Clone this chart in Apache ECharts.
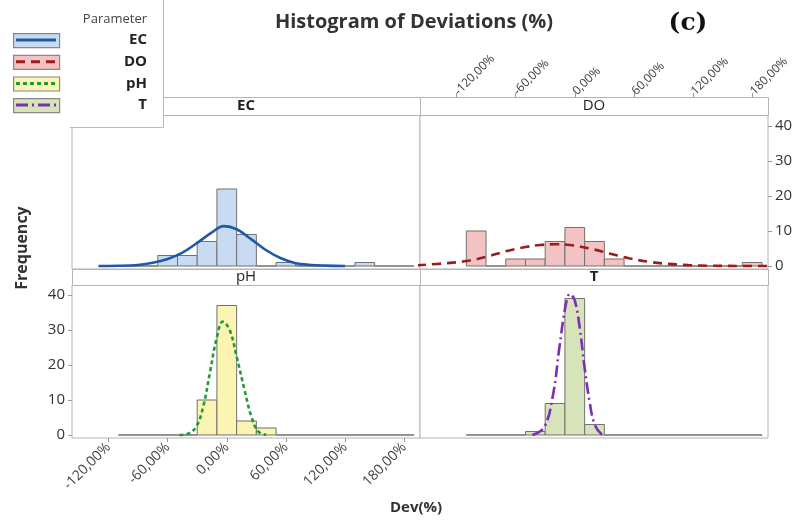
<!DOCTYPE html>
<html>
<head>
<meta charset="utf-8">
<script src="https://cdn.jsdelivr.net/npm/echarts@6/dist/echarts.min.js"></script>
<style>
html, body { margin: 0; padding: 0; background: #fff; }
#main { width: 802px; height: 522px; }
</style>
</head>
<body>
<div id="main"></div>
<script>
// bins (centre of each bin, in %)
const binCenters = [-120, -100, -80, -60, -40, -20, 0, 20, 40, 60, 80, 100, 120, 140, 160, 180];
const binWidth = 20;
const ecCounts = [0, 0, 0, 3, 3, 7, 22, 9, 0, 1, 0, 0, 0, 1, 0, 0];
const doCounts = [null, 10, 0, 2, 2, 7, 11, 7, 2, 0, 0, 0, 0, 0, 0, 1];
const phCounts = [null, 0, 0, 0, 0, 10, 37, 4, 2, 0, 0, 0, 0, 0, 0, 0];
const tCounts = [null, 0, 0, 0, 1, 9, 39, 3, 0, 0, 0, 0, 0, 0, 0, 0];

// fitted curves
const ecCurveX = [-130, -110, -90, -75, -60, -45, -30, -15, -3, 10, 25, 40, 55, 70, 85, 100, 120];
const ecCurveY = [0, 0.05, 0.3, 0.9, 2.0, 3.8, 6.6, 9.6, 11.4, 10.5, 7.6, 4.5, 2.2, 0.8, 0.3, 0.1, 0];
const doCurveX = [-160, -130, -110, -90, -70, -50, -35, -20, -5, 15, 35, 55, 75, 95, 115, 140, 170, 196];
const doCurveY = [0.2, 0.8, 1.4, 2.6, 4.2, 5.4, 6.0, 6.2, 6.0, 5.0, 3.6, 2.2, 1.2, 0.6, 0.25, 0.06, 0.01, 0];
const phCurveX = [-48, -40, -31, -24, -17, -10, -4, 3, 10, 18, 25, 32, 40];
const phCurveY = [0, 0.3, 2.4, 8, 18, 28, 32.4, 30, 22.4, 12.9, 5.2, 1.0, 0];
const tCurveX = [-43, -31, -22, -15.6, -9, -5, 0, 5, 10, 15, 20, 27, 32];
const tCurveY = [0, 2.2, 11.6, 25, 37.4, 40.3, 38.4, 30.7, 19.2, 9.6, 3.1, 0.3, 0];

const xTicks = [-120, -60, 0, 60, 120, 180];
const xTickLabels = ['-120,00%', '-60,00%', '0,00%', '60,00%', '120,00%', '180,00%'];
const yTicks = [0, 10, 20, 30, 40];

const panels = ['EC', 'DO', 'pH', 'T'];
const fills = ['#c9dbf2', '#f3c3c3', '#fbf4b3', '#d7e4b9'];
const lineColors = ['#1f5aa6', '#9b1c1c', '#1f9a3a', '#7a2fb5'];
const lineTypes = ['solid', [9, 6], [4, 3], [12, 4, 2, 4]];

function pairs(xs, ys) {
  let out = [];
  for (let i = 0; i < xs.length; i++) {
    if (ys[i] !== null) out.push([xs[i], ys[i]]);
  }
  return out;
}

function histItem(params, api) {
  let c = api.value(0), n = api.value(1);
  let p0 = api.coord([c - binWidth / 2, n]);
  let p1 = api.coord([c + binWidth / 2, 0]);
  return {
    type: 'rect',
    shape: { x: p0[0], y: p0[1], width: p1[0] - p0[0], height: p1[1] - p0[1] },
    style: { fill: api.visual('color'), stroke: '#707070', lineWidth: 1 }
  };
}

let myChart = echarts.init(document.getElementById('main'));

const font = 'Open Sans';
const grids = [
  { left: 72, width: 348, top: 115, height: 154 },
  { left: 420, width: 348, top: 115, height: 154 },
  { left: 72, width: 348, top: 285, height: 153 },
  { left: 420, width: 348, top: 285, height: 153 }
];
grids.forEach(g => { g.show = true; g.borderColor = '#b4b4b4'; g.borderWidth = 1; g.backgroundColor = '#fff'; });

let xAxes = [], yAxes = [], series = [];
for (let i = 0; i < 4; i++) {
  let showX = (i === 1 || i === 2);
  xAxes.push({
    type: 'value', gridIndex: i, min: -157, max: 196,
    position: i === 1 ? 'top' : 'bottom',
    offset: i === 1 ? 18 : 0,
    splitLine: { show: false },
    axisLine: { show: false, onZero: false },
    axisTick: { show: showX, customValues: xTicks, length: 4, lineStyle: { color: '#999' } },
    axisLabel: {
      show: showX, customValues: xTicks, rotate: i === 1 ? -45 : 45, margin: i === 1 ? 4 : 7,
      color: '#404040', fontFamily: font, fontSize: i === 1 ? 12 : 14,
      formatter: v => xTickLabels[xTicks.indexOf(v)]
    }
  });
  let top = i < 2;
  let showY = (i === 1 || i === 2);
  yAxes.push({
    type: 'value', gridIndex: i,
    min: -0.86, max: top ? 43.14 : 42.86,
    position: i === 1 ? 'right' : 'left',
    splitLine: { show: false },
    axisLine: { show: false, onZero: false },
    axisTick: { show: showY, customValues: yTicks, length: 4, lineStyle: { color: '#999' } },
    axisLabel: { show: showY, customValues: yTicks, color: '#333', fontFamily: font, fontSize: 15, margin: 7 }
  });
}

const counts = [ecCounts, doCounts, phCounts, tCounts];
const curveX = [ecCurveX, doCurveX, phCurveX, tCurveX];
const curveY = [ecCurveY, doCurveY, phCurveY, tCurveY];
for (let i = 0; i < 4; i++) {
  series.push({
    name: panels[i], type: 'custom', xAxisIndex: i, yAxisIndex: i,
    renderItem: histItem, itemStyle: { color: fills[i] },
    data: pairs(binCenters, counts[i]), z: 2
  });
  series.push({
    name: panels[i] + ' fit', type: 'line', xAxisIndex: i, yAxisIndex: i,
    smooth: 0.4, symbol: 'none', z: 3,
    lineStyle: { color: lineColors[i], width: 2.6, type: lineTypes[i] },
    data: pairs(curveX[i], curveY[i])
  });
}

// strips with panel names
let graphics = [];
const strips = [
  { x: 72, y: 97, label: 'EC', bold: true },
  { x: 420, y: 97, label: 'DO', bold: false },
  { x: 72, y: 269, label: 'pH', bold: false },
  { x: 420, y: 269, label: 'T', bold: true }
];
strips.forEach(s => {
  let h = s.y === 97 ? 18 : 16;
  graphics.push({ type: 'rect', left: s.x, top: s.y, shape: { width: 348, height: h }, style: { fill: '#fff', stroke: '#b4b4b4', lineWidth: 1 }, z: 10 });
  graphics.push({ type: 'text', x: s.x + 174, y: s.y + h / 2, style: { text: s.label, fill: '#222', font: (s.bold ? 'bold ' : '') + '15px "' + font + '"', align: 'center', verticalAlign: 'middle' }, z: 11 });
});

// legend box
graphics.push({ type: 'rect', left: 0, top: 0, shape: { width: 163, height: 127 }, style: { fill: '#fff' }, z: 20 });
graphics.push({ type: 'line', shape: { x1: 163.5, y1: 0, x2: 163.5, y2: 127.5 }, style: { stroke: '#bbb', lineWidth: 1 }, z: 21 });
graphics.push({ type: 'line', shape: { x1: 70, y1: 127.5, x2: 163.5, y2: 127.5 }, style: { stroke: '#bbb', lineWidth: 1 }, z: 21 });
graphics.push({ type: 'text', x: 147, y: 19, style: { text: 'Parameter', fill: '#444', font: '13px "' + font + '"', align: 'right', verticalAlign: 'middle' }, z: 21 });
for (let i = 0; i < 4; i++) {
  let yc = 40 + i * 21.7;
  graphics.push({ type: 'rect', left: 13, top: yc - 7, shape: { width: 46, height: 14 }, style: { fill: fills[i], stroke: '#888', lineWidth: 1.2 }, z: 21 });
  graphics.push({ type: 'line', shape: { x1: 16, y1: yc, x2: 56, y2: yc }, style: { stroke: lineColors[i], lineWidth: 3, lineDash: lineTypes[i] === 'solid' ? null : lineTypes[i] }, z: 22 });
  graphics.push({ type: 'text', x: 147, y: yc, style: { text: panels[i], fill: '#222', font: 'bold 15px "' + font + '"', align: 'right', verticalAlign: 'middle' }, z: 21 });
}

// titles
graphics.push({ type: 'text', x: 414, y: 22, style: { text: 'Histogram of Deviations (%)', fill: '#333', font: 'bold 20px "' + font + '"', align: 'center', verticalAlign: 'middle' }, z: 21 });
graphics.push({ type: 'text', x: 688, y: 23, style: { text: '(c)', fill: '#111', font: 'bold 25px "DejaVu Serif"', align: 'center', verticalAlign: 'middle' }, z: 21 });
graphics.push({ type: 'text', x: 416, y: 508, style: { text: 'Dev(%)', fill: '#333', font: 'bold 15px "' + font + '"', align: 'center', verticalAlign: 'middle' }, z: 21 });
graphics.push({ type: 'text', x: 22, y: 248, rotation: Math.PI / 2, style: { text: 'Frequency', fill: '#333', font: 'bold 16px "' + font + '"', align: 'center', verticalAlign: 'middle' }, z: 21 });

myChart.setOption({
  animation: false,
  grid: grids,
  xAxis: xAxes,
  yAxis: yAxes,
  series: series,
  graphic: graphics
});
</script>
</body>
</html>
